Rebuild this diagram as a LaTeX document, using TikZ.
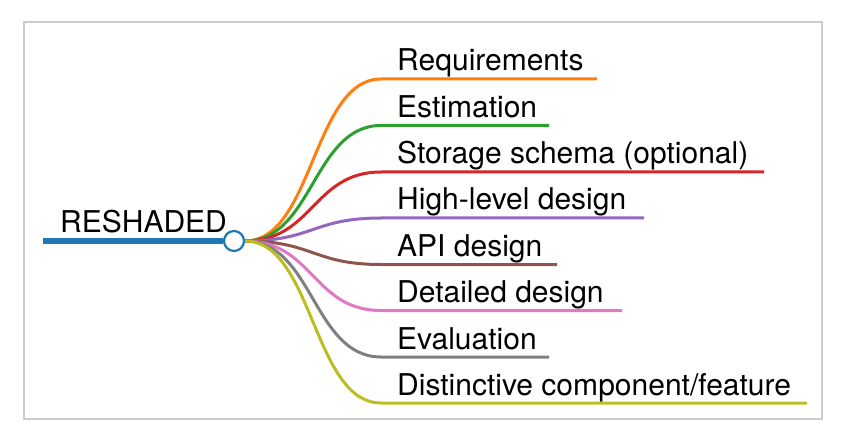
\documentclass[tikz,border=0pt]{standalone}
\usepackage{fontspec}
\setmainfont{TeX Gyre Heros}
\usetikzlibrary{positioning}
\definecolor{cblue}{HTML}{1F77B4}
\definecolor{corange}{HTML}{FF7F0E}
\definecolor{cgreen}{HTML}{2CA02C}
\definecolor{cred}{HTML}{D62728}
\definecolor{cpurple}{HTML}{9467BD}
\definecolor{cbrown}{HTML}{8C564B}
\definecolor{cpink}{HTML}{E377C2}
\definecolor{cgray}{HTML}{7F7F7F}
\definecolor{colive}{HTML}{BCBD22}
\begin{document}
\begin{tikzpicture} [x=1pt,y=-1pt,{rootdot/.style={circle,draw=cblue,fill=white,line width=2.2pt,minimum size=20pt,inner sep=0pt}},{label/.style={anchor=base west,inner sep=0pt,font=\fontsize{30}{35}\selectfont}},{branchst/.style={line width=3pt}},{framest/.style={color=black!20,line width=1.5pt}}]
	%%frame
	\useasboundingbox (0,0) rectangle (850,438);
	\draw [framest] (24,22) rectangle (822,419);
	%%root
	\coordinate (start) at (43,241);
	\node [rootdot] (root) at (234,241) {};
	\draw [cblue,line width=6pt] (start) -- (root.west);
	\node [label] (rtext) at (60,233) {RESHADED};
	%%branches
	\foreach \i/\y/\col/\ex/\txt in {1/79/corange/597/Requirements,2/125.5/cgreen/549/Estimation,3/172/cred/764/{Storage schema (optional)},4/218/cpurple/644/{High-level design},5/264.5/cbrown/557/{API design},6/310.5/cpink/622/{Detailed design},7/357/cgray/549/Evaluation,8/403/colive/807/{Distinctive component/feature}}{
		\coordinate (b\i) at (381,\y);
		\coordinate (e\i) at (\ex,\y);
		\draw [branchst,\col] (root.east) .. controls (313,241) and (313,\y) .. (b\i) -- (e\i);
		\node [label] (t\i) at (397,\y-8) {\txt};
	}
\end{tikzpicture}
\end{document}
